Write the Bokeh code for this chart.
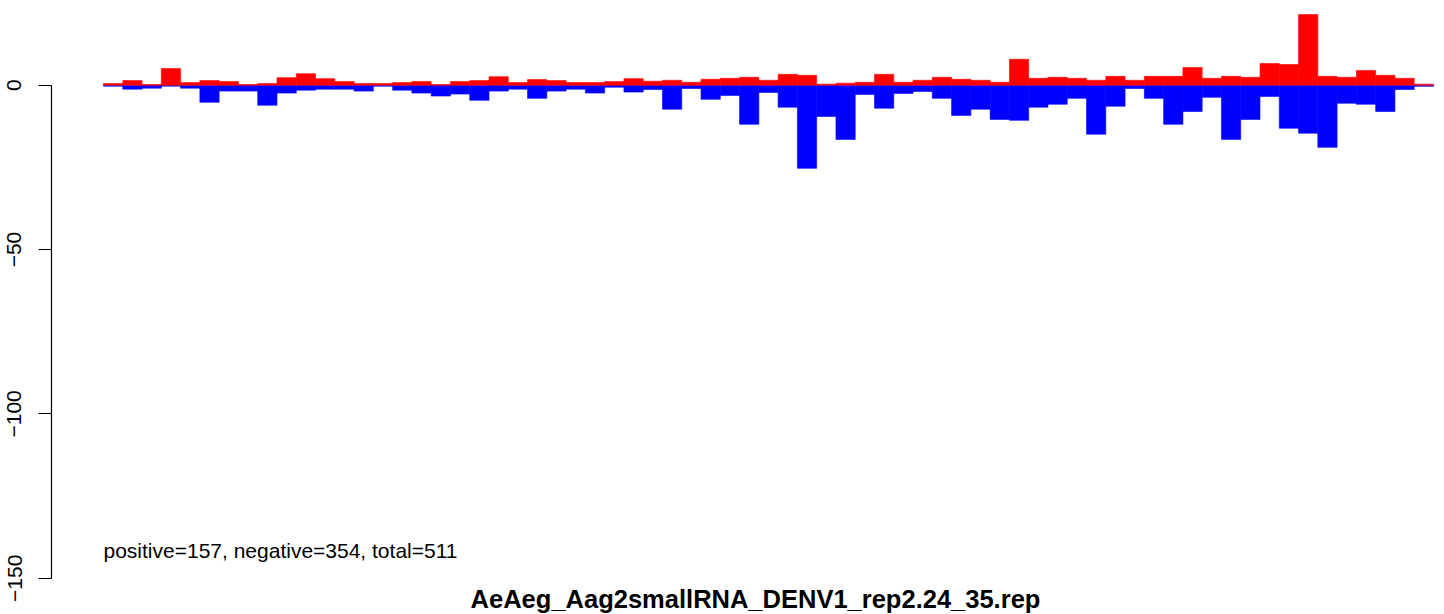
from bokeh.plotting import figure
from bokeh.models import ColumnDataSource, Range1d, FixedTicker, Label
from bokeh.embed import file_html
from bokeh.resources import INLINE

# ---- data ----
positive_counts = [0.5, 1.4, 0.2, 5.1, 0.8, 1.4, 1.1, 0.2, 0.5, 2.3, 3.5, 2.0, 1.1, 0.5,
                   0.5, 0.8, 1.1, 0.2, 1.1, 1.4, 2.6, 0.8, 1.7, 1.4, 0.8, 0.8, 1.1, 2.0,
                   1.2, 1.5, 0.9, 1.8, 2.1, 2.4, 1.5, 3.3, 3.0, 0.3, 0.6, 0.9, 3.3, 0.9, 1.5, 2.4, 1.8, 1.5,
                   0.9, 7.9, 2.1, 2.4, 2.1, 1.5, 2.7, 1.5, 2.7, 2.7, 5.4, 2.1, 2.7, 2.4, 6.6, 6.3, 21.5,
                   2.7, 2.4, 4.5, 3.0, 2.1, 0.3]
negative_counts = [0.3, 1.2, 0.9, 0.3, 0.9, 5.2, 1.8, 1.8, 6.1, 2.4, 1.5, 1.2, 1.2, 1.8,
                   0.3, 1.5, 2.4, 3.3, 2.7, 4.6, 1.8, 1.2, 4.0, 1.8, 1.2, 2.4, 0.6, 2.1,
                   1.3, 7.3, 1.0, 4.3, 3.1, 11.9, 2.2, 6.7, 25.3, 9.5, 16.5, 2.8, 7.0, 2.5, 1.9, 4.0, 9.2, 7.3,
                   10.4, 10.7, 6.7, 5.8, 4.0, 14.9, 6.4, 1.0, 4.0, 11.9, 8.0, 3.7, 16.5, 10.4, 3.4, 13.1, 14.6,
                   18.9, 5.5, 5.8, 8.0, 1.3, 0.35]
y_ticks = [0, -50, -100, -150]
y_tick_labels = ["0", "\u221250", "\u2212100", "\u2212150"]
title_text = "AeAeg_Aag2smallRNA_DENV1_rep2.24_35.rep"
summary_text = "positive=157, negative=354, total=511"

n = len(positive_counts)
centers = [i + 0.5 for i in range(n)]
neg_vals = [-v for v in negative_counts]

src = ColumnDataSource(dict(x=centers, pos=positive_counts, neg=neg_vals))

FONT = "Liberation Sans"
W, H = 1444, 614
left_border = 51
px_per_x = 19.275
px_per_y = 3.287
zero_px = 84.7  # zero line position from figure top

x_start = -(103 - left_border) / px_per_x
x_end = x_start + (W - left_border) / px_per_x
y_end = zero_px / px_per_y
y_start = -(H - zero_px) / px_per_y

p = figure(width=W, height=H, output_backend="svg", toolbar_location=None,
           x_range=Range1d(x_start, x_end), y_range=Range1d(y_start, y_end),
           min_border_left=left_border, min_border_right=0, min_border_top=0,
           min_border_bottom=0, x_axis_location=None)
p.outline_line_color = None
p.xgrid.visible = False
p.ygrid.visible = False
p.background_fill_color = "white"
p.border_fill_color = "white"

# negative (blue) first, positive (red) drawn on top so the zero edge stays red
p.vbar(x="x", width=1.0, top=0, bottom="neg", source=src,
       fill_color="#0000FF", line_color="#0000FF", line_width=0.6)
p.vbar(x="x", width=1.0, top="pos", bottom=0, source=src,
       fill_color="#FF0000", line_color="#FF0000", line_width=0.6)

ax = p.yaxis[0]
ax.ticker = FixedTicker(ticks=y_ticks)
ax.major_label_overrides = {t: l for t, l in zip(y_ticks, y_tick_labels)}
ax.bounds = (min(y_ticks), max(y_ticks))
ax.minor_tick_line_color = None
ax.major_tick_in = 0
ax.major_tick_out = 13
ax.major_label_standoff = 17
ax.major_label_orientation = "vertical"
ax.major_label_text_font = FONT
ax.major_label_text_font_size = "21px"
ax.major_label_text_color = "black"
ax.axis_line_color = "black"
ax.axis_line_width = 1.2
ax.major_tick_line_width = 1.2

p.add_layout(Label(x=0, y=-(549.7 - zero_px) / px_per_y, text=summary_text,
                   text_font=FONT, text_font_size="21px", text_color="black",
                   text_align="left", text_baseline="middle"))
p.add_layout(Label(x=(755 - 103) / px_per_x, y=-(598 - zero_px) / px_per_y, text=title_text,
                   text_font=FONT, text_font_size="25.5px", text_font_style="bold",
                   text_color="black", text_align="center", text_baseline="middle"))

open("out.html", "w").write(file_html(p, INLINE))
